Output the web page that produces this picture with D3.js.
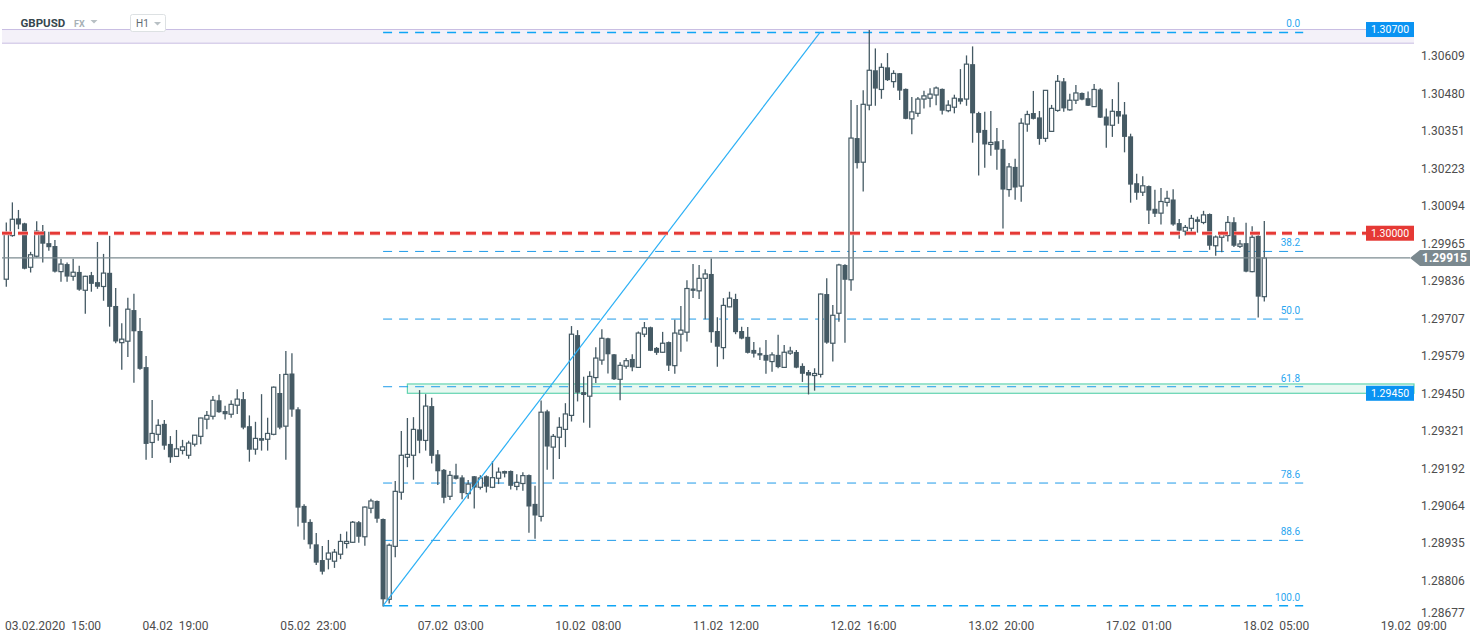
<!DOCTYPE html>
<html><head><meta charset="utf-8">
<script src="https://cdn.jsdelivr.net/npm/d3@7"></script>
<style>
html,body{margin:0;padding:0;background:#fff;overflow:hidden}
text{font-family:Roboto,"Noto Sans",sans-serif}
</style>
</head><body>
<svg id="chart" width="1482" height="643"></svg>
<script>
// ---------------- DATA ----------------
const symbol = "GBPUSD", market = "FX", timeframe = "H1";

const open = [
1.29842,1.29992,1.30051,1.30034,1.29883,1.29921,1.30007,1.29966,1.29956,1.29868,
1.29894,1.29852,1.29867,1.29804,1.29856,1.29832,1.29817,1.29864,1.29750,1.29624,
1.29629,1.29736,1.29664,1.29540,1.29281,1.29309,1.29345,1.29276,1.29233,1.29254,
1.29237,1.29275,1.29302,1.29361,1.29371,1.29426,1.29389,1.29378,1.29409,1.29430,
1.29337,1.29258,1.29296,1.29292,1.29309,1.29451,1.29337,1.29518,1.29395,1.29063,
1.29008,1.28931,1.28877,1.28880,1.28873,1.28897,1.28934,1.28938,1.29007,1.28957,
1.29055,1.29080,1.29018,1.28742,1.28924,1.29110,1.29230,1.29237,1.29326,1.29288,
1.29406,1.29240,1.29187,1.29096,1.29168,1.29161,1.29105,1.29165,1.29127,1.29165,
1.29127,1.29158,1.29183,1.29183,1.29130,1.29140,1.29169,1.29070,1.29027,1.29388,
1.29265,1.29299,1.29326,1.29374,1.29650,1.29454,1.29440,1.29504,1.29564,1.29639,
1.29584,1.29498,1.29543,1.29568,1.29539,1.29653,1.29677,1.29606,1.29591,1.29626,
1.29545,1.29653,1.29660,1.29810,1.29802,1.29845,1.29860,1.29664,1.29607,1.29747,
1.29774,1.29664,1.29644,1.29599,1.29588,1.29582,1.29559,1.29582,1.29539,1.29588,
1.29592,1.29544,1.29523,1.29511,1.29515,1.29791,1.29622,1.29725,1.29891,1.29840,
1.30327,1.30244,1.30440,1.30560,1.30494,1.30570,1.30521,1.30550,1.30496,1.30393,
1.30412,1.30461,1.30464,1.30475,1.30496,1.30421,1.30433,1.30464,1.30461,1.30581,
1.30413,1.30355,1.30305,1.30316,1.30290,1.30150,1.30228,1.30162,1.30375,1.30413,
1.30398,1.30326,1.30350,1.30422,1.30522,1.30424,1.30457,1.30482,1.30464,1.30435,
1.30494,1.30401,1.30371,1.30420,1.30408,1.30333,1.30172,1.30141,1.30162,1.30084,
1.30069,1.30106,1.30116,1.30035,1.30007,1.30017,1.30048,1.30037,1.30066,1.29957,
1.29986,1.29992,1.30038,1.29955,1.29966,1.29868,1.29991,1.29782];

const high = [
1.30037,1.30106,1.30080,1.30036,1.29936,1.30041,1.30028,1.30005,1.29977,1.29912,
1.29899,1.29912,1.29888,1.29854,1.29867,1.29970,1.29929,1.29991,1.29812,1.29691,
1.29778,1.29792,1.29709,1.29578,1.29427,1.29361,1.29358,1.29303,1.29324,1.29290,
1.29287,1.29307,1.29366,1.29389,1.29441,1.29445,1.29407,1.29426,1.29464,1.29454,
1.29374,1.29352,1.29447,1.29366,1.29473,1.29516,1.29595,1.29588,1.29402,1.29069,
1.29017,1.28970,1.28925,1.28946,1.28915,1.28967,1.28975,1.29011,1.29011,1.29061,
1.29088,1.29082,1.29020,1.28934,1.29149,1.29320,1.29365,1.29368,1.29461,1.29447,
1.29435,1.29255,1.29190,1.29183,1.29208,1.29168,1.29152,1.29166,1.29168,1.29168,
1.29217,1.29195,1.29184,1.29185,1.29172,1.29179,1.29171,1.29132,1.29425,1.29393,
1.29310,1.29368,1.29416,1.29681,1.29667,1.29507,1.29526,1.29608,1.29670,1.29641,
1.29585,1.29557,1.29571,1.29584,1.29662,1.29695,1.29679,1.29609,1.29661,1.29628,
1.29703,1.29750,1.29838,1.29894,1.29891,1.29876,1.29913,1.29711,1.29777,1.29799,
1.29792,1.29679,1.29678,1.29626,1.29607,1.29633,1.29591,1.29651,1.29616,1.29610,
1.29599,1.29553,1.29530,1.29536,1.29793,1.29845,1.29753,1.29895,1.29893,1.30458,
1.30441,1.30491,1.30698,1.30635,1.30584,1.30619,1.30560,1.30551,1.30497,1.30468,
1.30468,1.30490,1.30498,1.30504,1.30497,1.30457,1.30476,1.30564,1.30611,1.30642,
1.30417,1.30417,1.30420,1.30362,1.30320,1.30241,1.30256,1.30395,1.30421,1.30489,
1.30420,1.30492,1.30441,1.30544,1.30533,1.30479,1.30509,1.30484,1.30487,1.30513,
1.30498,1.30429,1.30461,1.30519,1.30451,1.30342,1.30204,1.30196,1.30164,1.30149,
1.30155,1.30146,1.30151,1.30049,1.30028,1.30063,1.30057,1.30077,1.30068,1.29992,
1.30006,1.30059,1.30055,1.29977,1.30036,1.30024,1.29993,1.30042];

const low = [
1.29816,1.29988,1.30014,1.29876,1.29865,1.29917,1.29899,1.29940,1.29865,1.29833,
1.29833,1.29837,1.29802,1.29723,1.29799,1.29809,1.29768,1.29679,1.29622,1.29531,
1.29575,1.29486,1.29531,1.29222,1.29228,1.29287,1.29256,1.29211,1.29231,1.29240,
1.29225,1.29267,1.29275,1.29326,1.29360,1.29383,1.29360,1.29366,1.29379,1.29326,
1.29215,1.29239,1.29253,1.29253,1.29306,1.29326,1.29222,1.29369,1.28992,1.28947,
1.28916,1.28860,1.28827,1.28845,1.28850,1.28880,1.28917,1.28936,1.28936,1.28926,
1.29038,1.29005,1.28717,1.28728,1.28887,1.29084,1.29196,1.29153,1.29244,1.29253,
1.29209,1.29135,1.29072,1.29083,1.29154,1.29086,1.29088,1.29054,1.29119,1.29109,
1.29124,1.29138,1.29161,1.29119,1.29117,1.29115,1.28971,1.28950,1.29009,1.29187,
1.29155,1.29224,1.29265,1.29353,1.29422,1.29349,1.29332,1.29485,1.29548,1.29518,
1.29496,1.29426,1.29534,1.29526,1.29537,1.29643,1.29595,1.29582,1.29589,1.29527,
1.29517,1.29593,1.29628,1.29777,1.29774,1.29704,1.29624,1.29541,1.29567,1.29746,
1.29653,1.29636,1.29587,1.29573,1.29564,1.29517,1.29524,1.29536,1.29537,1.29582,
1.29536,1.29489,1.29446,1.29459,1.29504,1.29620,1.29559,1.29696,1.29624,1.29802,
1.30222,1.30143,1.30423,1.30438,1.30462,1.30523,1.30500,1.30458,1.30392,1.30340,
1.30400,1.30429,1.30433,1.30440,1.30408,1.30416,1.30412,1.30443,1.30438,1.30311,
1.30198,1.30225,1.30266,1.30218,1.30016,1.30125,1.30115,1.30108,1.30349,1.30391,
1.30304,1.30314,1.30349,1.30417,1.30417,1.30421,1.30444,1.30457,1.30437,1.30434,
1.30396,1.30294,1.30331,1.30376,1.30278,1.30105,1.30115,1.30128,1.30032,1.30056,
1.30030,1.30092,1.30026,1.29981,1.29992,1.30000,1.30002,1.30031,1.29943,1.29923,
1.29935,1.29972,1.29953,1.29949,1.29866,1.29866,1.29710,1.29765];

const close = [
1.29997,1.30048,1.30030,1.29878,1.29926,1.30007,1.29964,1.29952,1.29868,1.29894,
1.29851,1.29866,1.29806,1.29852,1.29826,1.29816,1.29863,1.29747,1.29628,1.29636,
1.29739,1.29663,1.29534,1.29276,1.29312,1.29340,1.29270,1.29230,1.29259,1.29266,
1.29279,1.29306,1.29365,1.29374,1.29426,1.29385,1.29378,1.29412,1.29430,1.29332,
1.29256,1.29295,1.29287,1.29312,1.29471,1.29332,1.29515,1.29394,1.29057,1.29005,
1.28931,1.28868,1.28837,1.28901,1.28904,1.28941,1.28941,1.29007,1.28957,1.29059,
1.29080,1.29019,1.28742,1.28928,1.29113,1.29237,1.29240,1.29326,1.29287,1.29406,
1.29235,1.29182,1.29091,1.29168,1.29156,1.29107,1.29138,1.29126,1.29159,1.29129,
1.29160,1.29179,1.29174,1.29132,1.29144,1.29167,1.29061,1.29030,1.29385,1.29267,
1.29302,1.29333,1.29379,1.29653,1.29452,1.29444,1.29508,1.29571,1.29639,1.29584,
1.29498,1.29546,1.29562,1.29539,1.29657,1.29675,1.29596,1.29589,1.29622,1.29545,
1.29657,1.29667,1.29810,1.29802,1.29845,1.29860,1.29660,1.29610,1.29752,1.29777,
1.29660,1.29638,1.29589,1.29586,1.29580,1.29562,1.29582,1.29540,1.29591,1.29595,
1.29538,1.29517,1.29511,1.29518,1.29791,1.29624,1.29718,1.29891,1.29840,1.30327,
1.30241,1.30443,1.30560,1.30497,1.30570,1.30526,1.30549,1.30490,1.30393,1.30417,
1.30461,1.30472,1.30478,1.30499,1.30421,1.30440,1.30464,1.30452,1.30581,1.30412,
1.30345,1.30305,1.30312,1.30287,1.30150,1.30228,1.30157,1.30378,1.30408,1.30393,
1.30324,1.30491,1.30429,1.30522,1.30429,1.30457,1.30482,1.30459,1.30438,1.30494,
1.30397,1.30370,1.30419,1.30401,1.30331,1.30167,1.30139,1.30163,1.30078,1.30067,
1.30109,1.30120,1.30030,1.30009,1.30020,1.30051,1.30039,1.30063,1.29957,1.29987,
1.29999,1.30037,1.29957,1.29963,1.29868,1.29986,1.29782,1.29915];

const xTickLabels = ["03.02.2020  15:00","04.02  19:00","05.02  23:00","07.02  03:00","10.02  08:00",
  "11.02  12:00","12.02  16:00","13.02  20:00","17.02  01:00","18.02  05:00","19.02  09:00"];
const xTickIndex = [5.22, 27.86, 50.5, 73.15, 95.77, 118.42, 141.06, 163.7, 186.33, 208.97, 231.61];

const yTickValues = [1.30609,1.30480,1.30351,1.30223,1.30094,1.29965,1.29836,1.29707,
  1.29579,1.29450,1.29321,1.29192,1.29064,1.28935,1.28806,1.28677];

const fibLevels = [0, 38.2, 50, 61.8, 78.6, 88.6, 100];
const fibHigh = 1.30690, fibLow = 1.28720;
const fibStartIndex = 62, fibEndIndex = 213.4, trendEndIndex = 133.9;

const resistanceLevel = 1.30000;
const supportZone = [1.29450, 1.29482], supportZoneStartIndex = 66;
const topZone = [1.30653, 1.30700];

// ---------------- CHART ----------------
const W = 1482, H = 643, plotRight = 1414;
const svg = d3.select("#chart");
const n = close.length;
const x = d3.scaleLinear().domain([0, n - 1]).range([6.3, 1264.3]);
const y = d3.scaleLinear().domain([1.28806, 1.30609]).range([580.7, 56]);
const lastPrice = close[n - 1];

const candleCol = "#455a64";
const fibCol = "#1e9be9";

// top zone (lavender)
svg.append("rect").attr("x", 2).attr("width", plotRight - 2)
  .attr("y", y(topZone[1])).attr("height", y(topZone[0]) - y(topZone[1]))
  .attr("fill", "#f4f1f9");
[topZone[0], topZone[1]].forEach(v => svg.append("line")
  .attr("x1", 2).attr("x2", plotRight).attr("y1", y(v)).attr("y2", y(v))
  .attr("stroke", "#c9bde3").attr("stroke-width", 1));

// support zone (green)
svg.append("rect").attr("x", x(supportZoneStartIndex)).attr("width", plotRight - x(supportZoneStartIndex))
  .attr("y", y(supportZone[1])).attr("height", y(supportZone[0]) - y(supportZone[1]))
  .attr("fill", "#e8f8f1").attr("stroke", "#62d4b0").attr("stroke-width", 1.2);

// fib lines
const fibPrice = l => fibHigh - (fibHigh - fibLow) * l / 100;
const fx0 = x(fibStartIndex), fx1 = x(fibEndIndex);
fibLevels.forEach(l => {
  const yy = y(fibPrice(l));
  const edge = (l === 0 || l === 100);
  svg.append("line").attr("x1", fx0).attr("x2", fx1).attr("y1", yy).attr("y2", yy)
    .attr("stroke", edge ? "#0ea5f5" : fibCol).attr("stroke-width", edge ? 1.4 : 1)
    .attr("stroke-dasharray", "9,7");
  svg.append("text").attr("x", fx1 - 3).attr("y", yy - 5).attr("text-anchor", "end")
    .attr("font-size", 10).attr("fill", "#2aa6f0").text(l.toFixed(1));
});

// candles
const g = svg.append("g");
for (let i = 0; i < n; i++) {
  const cx = x(i), o = open[i], c = close[i];
  g.append("line").attr("x1", cx).attr("x2", cx).attr("y1", y(high[i])).attr("y2", y(low[i]))
    .attr("stroke", candleCol).attr("stroke-width", 1.3);
  const top = y(Math.max(o, c)), bot = y(Math.min(o, c));
  if (c >= o) {
    g.append("rect").attr("x", cx - 2.1).attr("width", 4.2)
      .attr("y", top).attr("height", Math.max(1, bot - top))
      .attr("fill", "#fff").attr("stroke", candleCol).attr("stroke-width", 1.2);
  } else {
    g.append("rect").attr("x", cx - 2.5).attr("width", 5)
      .attr("y", top).attr("height", Math.max(1.2, bot - top))
      .attr("fill", candleCol);
  }
}

// trend (fib anchor) line
svg.append("line").attr("x1", x(fibStartIndex)).attr("y1", y(fibLow))
  .attr("x2", x(trendEndIndex)).attr("y2", y(fibHigh))
  .attr("stroke", "#2cb0f5").attr("stroke-width", 1.2);

// current price line
svg.append("line").attr("x1", 2).attr("x2", 1410).attr("y1", y(lastPrice)).attr("y2", y(lastPrice))
  .attr("stroke", "#7d8b91").attr("stroke-width", 1.3);

// resistance red dashed line
svg.append("line").attr("x1", 2).attr("x2", 1366).attr("y1", y(resistanceLevel)).attr("y2", y(resistanceLevel))
  .attr("stroke", "#f4a6a4").attr("stroke-width", 4).attr("stroke-dasharray", "10,6");
svg.append("line").attr("x1", 2).attr("x2", 1366).attr("y1", y(resistanceLevel)).attr("y2", y(resistanceLevel))
  .attr("stroke", "#e53935").attr("stroke-width", 2.4).attr("stroke-dasharray", "10,6");

// price tags
function tag(v, col) {
  const cy = y(v);
  svg.append("rect").attr("x", 1366).attr("y", cy - 7.5).attr("width", 48).attr("height", 15).attr("fill", col);
  svg.append("text").attr("x", 1390).attr("y", cy + 3.8).attr("text-anchor", "middle")
    .attr("font-size", 10.5).attr("fill", "#fff").text(v.toFixed(5));
}
tag(topZone[1], "#0a93f2");
tag(resistanceLevel, "#e53935");
tag(supportZone[0], "#0a93f2");

// y axis labels
yTickValues.forEach(v => {
  const cy = Math.min(y(v), 612.7);
  svg.append("text").attr("x", 1421).attr("y", cy + 4.3).attr("font-size", 12)
    .attr("fill", "#4d4d4d").text(v.toFixed(5));
});

// current price label
{
  const cy = y(lastPrice);
  svg.append("path").attr("d", `M1410,${cy} L1420,${cy - 8} L1470,${cy - 8} L1470,${cy + 8} L1420,${cy + 8} Z`)
    .attr("fill", "#7b898f");
  svg.append("text").attr("x", 1422).attr("y", cy + 4.3).attr("font-size", 12).attr("font-weight", "bold")
    .attr("fill", "#fff").text(lastPrice.toFixed(5));
}

// x axis labels
const xs = d3.scaleLinear().domain([0, n - 1]).range([6.3, 1264.3]);
xTickLabels.forEach((t, k) => {
  const txt = svg.append("text").attr("y", 629.5).attr("font-size", 12).attr("fill", "#4d4d4d")
    .style("white-space", "pre").attr("text-anchor", "middle").attr("x", xs(xTickIndex[k])).text(t);
  const bb = txt.node().getBBox();
  if (bb.x < 5) txt.attr("text-anchor", "start").attr("x", 5);
});

// header
svg.append("text").attr("x", 20.5).attr("y", 27).attr("font-size", 11.5).attr("font-weight", "bold")
  .attr("fill", "#37474f").text(symbol);
svg.append("text").attr("x", 74).attr("y", 27).attr("font-size", 9).attr("font-weight", "bold")
  .attr("fill", "#a7b1b6").text(market);
svg.append("path").attr("d", "M90.5,20 L97.5,20 L94,23.5 Z").attr("fill", "#b8c0c4");
svg.append("rect").attr("x", 130.5).attr("y", 14.5).attr("width", 35).attr("height", 17).attr("rx", 2)
  .attr("fill", "#fff").attr("stroke", "#dde1e3");
svg.append("text").attr("x", 136).attr("y", 27).attr("font-size", 10).attr("fill", "#5f6b70").text(timeframe);
svg.append("path").attr("d", "M154,22 L161,22 L157.5,25.5 Z").attr("fill", "#b8c0c4");
</script>
</body></html>
